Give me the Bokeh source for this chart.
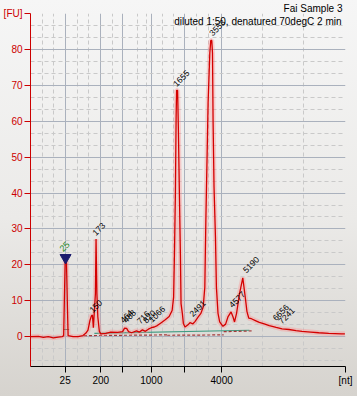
import numpy as np
from bokeh.plotting import figure
from bokeh.models import Range1d, FixedTicker, Label, ColumnDataSource
from bokeh.core.properties import value
from bokeh.embed import file_html
from bokeh.resources import INLINE

# ---- data (migration time in s, fluorescence in FU) ----
time_s = [17.00, 18.33, 19.17, 20.00, 20.83, 21.67, 22.33, 22.58, 22.67, 22.83, 23.05, 23.22, 23.33,
          24.17, 25.00, 25.83, 26.33, 26.67, 27.00, 27.25, 27.42, 27.58, 27.92, 28.03, 28.17, 28.33,
          28.58, 28.83, 29.67, 30.50, 31.67, 32.50, 32.83, 33.17, 33.50, 34.00, 34.83, 35.33, 35.83,
          36.33, 36.83, 37.33, 37.83, 38.33, 39.00, 39.67, 40.33, 40.83, 41.08, 41.22, 41.38, 41.50,
          41.58, 41.75, 41.88, 42.05, 42.22, 42.33, 42.55, 42.72, 43.00, 43.50, 43.83, 44.33, 44.67,
          45.22, 45.67, 46.05, 46.33, 46.50, 46.72, 46.88, 47.17, 47.33, 47.50, 47.62, 47.72, 47.88,
          48.12, 48.28, 48.55, 48.83, 49.38, 49.83, 50.22, 50.75, 51.08, 51.33, 51.67, 52.17, 52.72,
          53.17, 53.42, 53.72, 54.17, 54.83, 55.50, 56.33, 57.17, 58.33, 59.33, 60.50, 61.67, 62.67,
          64.17, 65.50, 67.17, 69.33, 69.90]
fu = [0.0, 0.1, -0.2, 0.0, -0.3, -0.1, 0.0, 0.3, 7.8, 21.0, 21.0, 7.8, 0.3,
      0.0, 0.0, 0.3, 1.0, 1.8, 4.5, 5.8, 6.0, 2.5, 12.0, 27.2, 12.0, 5.5,
      1.5, 0.8, 0.9, 1.3, 1.2, 1.4, 2.4, 2.3, 1.4, 1.1, 1.6, 1.3, 1.9,
      1.5, 2.1, 2.5, 2.7, 3.1, 3.9, 4.7, 5.6, 7.3, 11.0, 23.0, 40.0, 61.0,
      68.6, 68.6, 58.0, 40.0, 23.0, 9.2, 6.5, 3.7, 2.7, 3.3, 3.9, 3.6, 4.2,
      5.5, 6.5, 8.2, 13.8, 32.0, 51.0, 65.0, 79.0, 82.5, 82.5, 79.0, 60.0, 41.7,
      27.7, 13.8, 6.5, 4.1, 2.9, 3.5, 5.5, 6.9, 5.5, 4.1, 6.5, 12.0, 16.4,
      10.5, 7.0, 5.2, 5.0, 4.5, 4.0, 3.6, 3.1, 2.6, 2.2, 2.0, 1.7, 1.5,
      1.3, 1.1, 0.9, 0.8, 0.8]

ladder_time = [22.83, 28.83, 32.50, 37.33, 42.83, 49.17, 70.0]
ladder_nt = ["25", "200", "", "1000", "", "4000", "[nt]"]

peak_names = ["150", "173", "464", "488", "716", "820", "1066", "1655", "2491", "3553",
              "4577", "5190", "6656", "7241"]
peak_label_time = [27.50, 28.00, 32.67, 33.17, 35.50, 36.50, 37.50, 41.60, 44.33, 47.67,
                   51.00, 53.33, 58.33, 59.33]
peak_label_fu = [6.5, 28.0, 3.7, 3.7, 3.4, 3.6, 3.8, 69.5, 5.4, 83.6,
                 7.9, 17.6, 4.3, 3.4]

marker_name = ["25"]
marker_time = [22.90]
marker_fu = [22.0]
marker_label_time = [22.50]
marker_label_fu = [23.5]

baseline_green_time = [27.75, 53.83]
baseline_green_fu = [0.9, 1.8]
baseline_marker_time = [22.50, 23.50]
baseline_marker_fu = [2.0, 2.0]
baseline_red_time = [[26.0, 40.0], [40.0, 49.5], [49.5, 54.2]]
baseline_red_fu = [[0.3, 0.5], [0.4, 0.5], [1.4, 1.6]]

FONT = "Liberation Sans"

p = figure(width=357, height=396, output_backend="svg", toolbar_location=None,
           x_range=Range1d(17, 70), y_range=Range1d(-8.3, 90),
           min_border_left=27, min_border_right=12, min_border_top=0, min_border_bottom=30,
           title="Fai Sample 3")
p.title.align = "right"
p.title.text_font = FONT
p.title.text_font_size = "10px"
p.title.text_font_style = "normal"
p.title.text_color = "black"
p.title.standoff = 0
p.title.offset = 3
# soft vertical gradient behind the whole chart
p.border_fill_alpha = 0
p.background_fill_alpha = 0
p.styles = {"background": "linear-gradient(to bottom, #f6f6f6 0%, #ebeae8 55%, #d6d3ce 100%)"}
p.outline_line_color = None

# y axis
yt = list(range(0, 91, 10))
ymin = [v for v in np.arange(-20, 91, 10 / 3.0) if abs(v - round(v / 10) * 10) > 0.5]
p.yaxis.ticker = FixedTicker(ticks=yt, minor_ticks=ymin)
p.yaxis.major_label_overrides = {90: "[FU]"}
p.yaxis.axis_line_color = "#cc0000"
p.yaxis.major_tick_line_color = "#cc0000"
p.yaxis.major_label_text_color = "#cc0000"
p.yaxis.minor_tick_line_color = None
p.yaxis.major_tick_out = 6
p.yaxis.major_tick_in = 0
p.yaxis.major_label_standoff = 2
p.yaxis.major_label_text_font = FONT
p.yaxis.major_label_text_font_size = "10px"

# x axis
xmin = [18.95, 20.88, 24.83, 26.83, 30.83, 35.0, 36.5, 39.17, 41.0, 45.0, 47.0, 56.0, 63.0]
p.xaxis.ticker = FixedTicker(ticks=ladder_time, minor_ticks=xmin)
p.xaxis.major_label_overrides = {t: s for t, s in zip(ladder_time, ladder_nt)}
p.xaxis.axis_line_color = "black"
p.xaxis.major_tick_line_color = "black"
p.xaxis.minor_tick_line_color = None
p.xaxis.major_tick_out = 6
p.xaxis.major_tick_in = 0
p.xaxis.major_label_standoff = 2
p.xaxis.major_label_text_font = FONT
p.xaxis.major_label_text_font_size = "10px"
p.xaxis.major_label_text_color = "black"

for g in (p.xgrid, p.ygrid):
    g.grid_line_color = "#aab1bd"
    g.grid_line_width = 1
    g.minor_grid_line_color = "#c9c9c9"
    g.minor_grid_line_dash = "4 3"

# integration baselines
p.line(baseline_green_time, baseline_green_fu, line_color="#3f9c82", line_width=1.2)
p.line(baseline_marker_time, baseline_marker_fu, line_color="#4f6f55", line_width=1.2)
p.multi_line(baseline_red_time, baseline_red_fu, line_color="#a33a3a", line_width=1.2, line_dash="3 2")

# trace with glow
p.line(time_s, fu, line_color="#ff8a8a", line_alpha=0.35, line_width=5)
p.line(time_s, fu, line_color="#d40000", line_width=1.3)

# marker
p.scatter(marker_time, marker_fu, marker="inverted_triangle", size=11, fill_color="#1c1c6e",
          line_color="#1c1c6e")
p.text(marker_label_time, marker_label_fu, text=marker_name, angle=45, angle_units="deg",
       text_font=value(FONT), text_font_size="9px", text_color="#2a8a2a",
       text_align="left", text_baseline="bottom")

# peak labels
src = ColumnDataSource(dict(x=peak_label_time, y=peak_label_fu, t=peak_names))
p.text("x", "y", text="t", source=src, angle=45, angle_units="deg",
       text_font=value(FONT), text_font_size="8.5px", text_color="black",
       text_align="left", text_baseline="bottom")

# subtitle inside the plot area
p.add_layout(Label(x=70, y=90, x_offset=-4, y_offset=-2,
                   text="diluted 1:50, denatured 70degC 2 min", text_align="right",
                   text_baseline="top", text_font=FONT, text_font_size="10px", text_color="black"))

open("out.html", "w").write(file_html(p, INLINE))
